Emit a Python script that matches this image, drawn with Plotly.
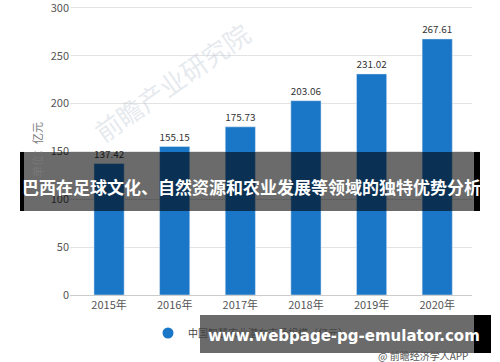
import plotly.graph_objects as go

years = ["2015年", "2016年", "2017年", "2018年", "2019年", "2020年"]
values = [137.42, 155.15, 175.73, 203.06, 231.02, 267.61]
series_name = "中国智慧农业潜在市场规模（亿元）"
y_ticks = [0, 50, 100, 150, 200, 250, 300]
banner_title = "巴西在足球文化、自然资源和农业发展等领域的独特优势分析"
site_text = "www.webpage-pg-emulator.com"
source_text = "@ 前瞻经济学人APP"
watermark = "前瞻产业研究院"

CJK = "Noto Sans CJK SC"
BLUE = "#1a76c6"

# plot area: x 70..472, y from 0 at 295 to 300 at 8 -> range top 302
YMAX = 302
SCALE = (295 - 8) / 300.0
L, R, B = 70, 472, 295
T = B - YMAX * SCALE
def px(x):
    return (x - L) / (R - L)
def py(y):
    return (B - y) / (B - T)

fig = go.Figure()
fig.add_trace(go.Bar(
    x=years, y=values, width=0.46, marker_color=BLUE,
    text=[f"{v:.2f}" for v in values], textposition="outside",
    textfont=dict(size=11, color="#333333", family=CJK),
    cliponaxis=False, showlegend=False,
))
fig.add_trace(go.Scatter(
    x=[None], y=[None], mode="markers", name=series_name,
    marker=dict(symbol="circle", size=11, color=BLUE),
))

fig.update_layout(
    width=500, height=362,
    margin=dict(l=L, r=500 - R, t=T, b=362 - B, autoexpand=False),
    paper_bgcolor="white", plot_bgcolor="white",
    font=dict(family=CJK, color="#555555", size=11),
    showlegend=True,
    legend=dict(orientation="h", x=px(148), y=py(333), xanchor="left", yanchor="middle",
                font=dict(size=10, color="#444444"), bgcolor="rgba(0,0,0,0)"),
    xaxis=dict(range=[-0.595, 5.53], showgrid=False, showline=True, linecolor="#cccccc",
               linewidth=1, ticks="", tickfont=dict(size=11, color="#555555")),
    yaxis=dict(range=[0, YMAX], tickvals=y_ticks, showgrid=True, gridcolor="#e3e3e3",
               zeroline=False, showline=False, ticks="", ticklabeloverflow="allow",
               tickfont=dict(size=11, color="#555555")),
)

annotations = [
    dict(text=watermark, xref="paper", yref="paper", x=px(172), y=py(82), showarrow=False,
         xanchor="center", yanchor="middle",
         textangle=-35, font=dict(size=26, color="rgba(190,200,212,0.4)", family=CJK)),
    dict(text="单位：亿元", xref="paper", yref="paper", x=px(37), y=py(150), showarrow=False,
         xanchor="center", yanchor="middle",
         textangle=-90, font=dict(size=11, color="#777777", family=CJK)),
    dict(text=source_text, xref="paper", yref="paper", x=px(470), y=py(355), showarrow=False,
         xanchor="right", yanchor="middle", font=dict(size=10, color="#555555", family=CJK)),
    dict(text="<b>" + banner_title + "</b>", xref="paper", yref="paper", x=px(251), y=py(187),
         showarrow=False, xanchor="center", yanchor="middle",
         font=dict(size=17, color="white", family=CJK)),
    dict(text="<b>" + site_text + "</b>", xref="paper", yref="paper", x=px(344), y=py(336),
         showarrow=False, xanchor="center", yanchor="middle",
         font=dict(size=15, color="white", family="DejaVu Sans")),
]
fig.update_layout(annotations=annotations)

shapes = [
    dict(type="rect", xref="paper", yref="paper", x0=px(20), x1=px(480), y0=py(211), y1=py(152),
         fillcolor="rgba(0,0,0,0.58)", line=dict(width=0), layer="above"),
    dict(type="rect", xref="paper", yref="paper", x0=px(20), x1=px(24), y0=py(211), y1=py(152),
         fillcolor="black", line=dict(width=0), layer="above"),
    dict(type="rect", xref="paper", yref="paper", x0=px(474), x1=px(480), y0=py(211), y1=py(152),
         fillcolor="black", line=dict(width=0), layer="above"),
    dict(type="rect", xref="paper", yref="paper", x0=px(200), x1=px(491), y0=py(353), y1=py(315),
         fillcolor="rgba(0,0,0,0.58)", line=dict(width=0), layer="above"),
    dict(type="rect", xref="paper", yref="paper", x0=px(474), x1=px(491), y0=py(353), y1=py(315),
         fillcolor="black", line=dict(width=0), layer="above"),
]
fig.update_layout(shapes=shapes)

fig.write_html("out.html", config={"displayModeBar": False},
               post_script="document.body.style.margin='0';document.body.style.overflow='hidden';")
